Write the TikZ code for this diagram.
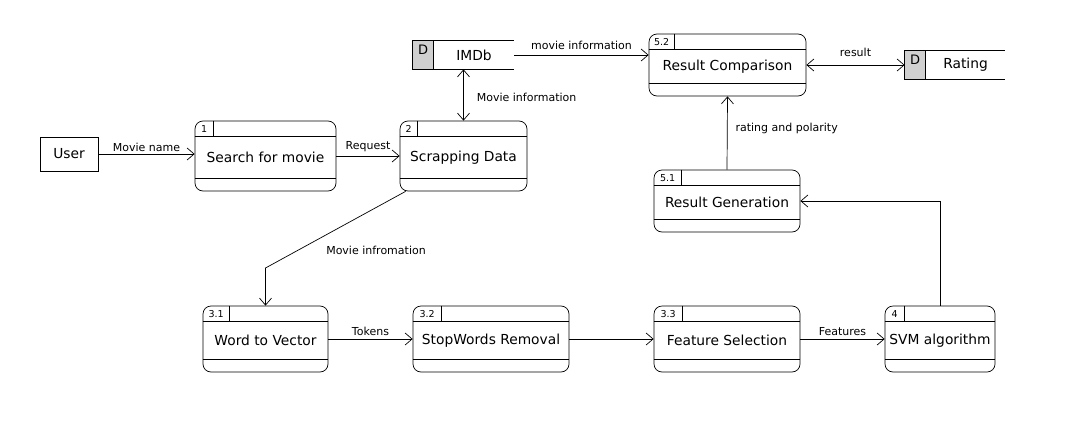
\documentclass[tikz,border=0pt]{standalone}
\usepackage{fontspec}
\setmainfont{DejaVu Sans}
\usetikzlibrary{arrows.meta}
\newcommand\dfdproc[8]{% name, cx, cy, w, h, numcell width, number, text
  \node[proc, minimum width=#4pt, minimum height=#5pt] (#1) at (#2,#3) {};
  \draw ([yshift=-16pt]#1.north west) -- ([yshift=-16pt]#1.north east);
  \draw ([yshift=13pt]#1.south west) -- ([yshift=13pt]#1.south east);
  \draw ([xshift=#6pt]#1.north west) -- ([xshift=#6pt,yshift=-16pt]#1.north west);
  \node[numtext] (#1-n) at ([xshift=#6pt*0.5,yshift=-8pt]#1.north west) {#7};
  \node[maintext] (#1-t) at ([yshift=-1.5pt]#1.center) {#8};
}
\newcommand\dfdstore[6]{% name, x1, y1, x2, y2, text
  \node[inner sep=0pt, minimum width={#4-#2}, minimum height={#5-#3}] (#1) at ({(#2+#4)/2},{(#3+#5)/2}) {};
  \fill[storegray] (#1.north west) rectangle ([xshift=21pt]#1.south west);
  \draw (#1.north west) rectangle ([xshift=21pt]#1.south west);
  \draw ([xshift=21pt]#1.north west) -- (#1.north east);
  \draw ([xshift=21pt]#1.south west) -- (#1.south east);
  \node[maintext, font=\fontsize{13}{15}\selectfont] (#1-d) at ([xshift=10.5pt,yshift=-9pt]#1.north west) {D};
  \node[maintext] (#1-t) at ([xshift=10.5pt]#1.center) {#6};
}
\definecolor{storegray}{RGB}{208,208,208}
\begin{document}
\begin{tikzpicture}[x=1pt,y=-1pt,line width=0.7pt,
  proc/.style={draw, rounded corners=8pt, inner sep=0pt},
  numtext/.style={font=\fontsize{9.5}{11}\selectfont, inner sep=0pt},
  maintext/.style={font=\fontsize{13.8}{16}\selectfont, inner sep=0pt},
  lbl/.style={font=\fontsize{11}{13}\selectfont, inner sep=0pt},
  flow/.style={-{Straight Barb[length=7pt,width=12pt]}},
  biflow/.style={{Straight Barb[length=7pt,width=12pt]}-{Straight Barb[length=7pt,width=12pt]}},
  ext/.style={draw, minimum width=58pt, minimum height=34pt, inner sep=0pt, font=\fontsize{13.8}{16}\selectfont}]
\useasboundingbox (0,0) rectangle (1078,423);
\fill[white] (0,0) rectangle (1078,423);

\node[ext] (user) at (69,154) {User};
\dfdproc{p1}{265.5}{156}{141}{70}{19}{1}{Search for movie}
\dfdproc{p2}{463.5}{156}{127}{70}{18}{2}{Scrapping Data}
\dfdproc{p52}{727.5}{65}{157}{62}{26}{5.2}{Result Comparison}
\dfdproc{p51}{727}{201}{146}{62}{28}{5.1}{Result Generation}
\dfdproc{p31}{265.5}{339}{125}{66}{27}{3.1}{Word to Vector}
\dfdproc{p32}{491}{339}{156}{66}{29}{3.2}{StopWords Removal}
\dfdproc{p33}{727}{339}{146}{66}{29}{3.3}{Feature Selection}
\dfdproc{p4}{940}{339}{110}{66}{20}{4}{SVM algorithm}
\dfdstore{imdb}{413}{41}{514}{69}{IMDb}
\dfdstore{rating}{905}{51}{1005}{79}{Rating}

\coordinate (b1) at (265.5,268);
\draw[flow] (user.east) -- (user.east -| p1.west) node[lbl, midway, above=2pt] (l1) {Movie name};
\draw[flow] (p1.east) -- (p2.west) node[lbl, midway, above=4pt] (l2) {Request};
\draw[biflow] (imdb.south) -- (p2.north) node[lbl, midway, right=13pt, yshift=-2pt] (l3) {Movie information};
\draw[flow] (imdb.east) -- (imdb.east -| p52.west) node[lbl, midway, above=5pt] (l4) {movie information};
\draw[biflow] (p52.east) -- (rating.west |- p52.east) node[lbl, midway, above=8pt] (l5) {result};
\draw[flow] (p51.north) -- (p52.south) node[lbl, midway, right=8pt, yshift=5pt] (l6) {rating and polarity};
\draw[flow] ([xshift=6pt]p2.south west) -- (b1) -- (p31.north);
\node[lbl] (l7) at (376,250) {Movie infromation};
\draw[flow] (p31.east) -- (p32.west) node[lbl, midway, above=3pt] (l8) {Tokens};
\draw[flow] (p32.east) -- (p33.west);
\draw[flow] (p33.east) -- (p4.west) node[lbl, midway, above=3pt] (l9) {Features};
\draw[flow] (p4.north) -- (p4.north |- p51.east) -- (p51.east);
\end{tikzpicture}
\end{document}
